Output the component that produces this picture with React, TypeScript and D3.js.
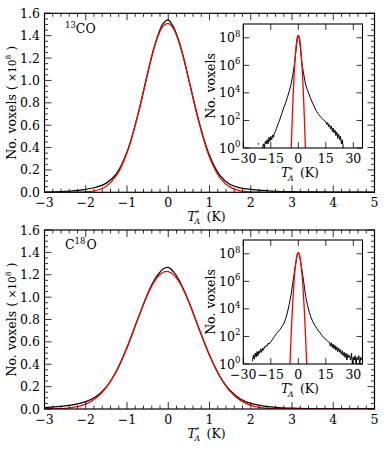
import React from 'react'
import * as d3 from 'd3'

const FONT = "'DejaVu Serif', 'Liberation Serif', 'Times New Roman', serif"
const RED = '#ff0000'

// main panels: T*_A grid (K), counts in units of 1e8
const mainT = [-3, -2.75, -2.5, -2.25, -2, -1.75, -1.5, -1.25, -1, -0.75, -0.5, -0.375, -0.25, -0.125, 0, 0.125, 0.25, 0.375, 0.5, 0.75, 1, 1.25, 1.5, 1.75, 2, 2.25, 2.5, 2.75, 3, 3.5, 4, 4.5, 5]
const co13Data = [0.002, 0.004, 0.008, 0.015, 0.027, 0.045, 0.082, 0.17, 0.36, 0.672, 1.062, 1.252, 1.405, 1.508, 1.54, 1.478, 1.362, 1.198, 1.005, 0.625, 0.328, 0.152, 0.07, 0.04, 0.026, 0.017, 0.011, 0.007, 0.005, 0.003, 0.0015, 0.0008, 0.0004]
const co13Fit = [0, 0, 0.0001, 0.0008, 0.004, 0.016, 0.055, 0.153, 0.353, 0.674, 1.066, 1.248, 1.394, 1.485, 1.509, 1.463, 1.352, 1.193, 1.003, 0.616, 0.313, 0.132, 0.046, 0.013, 0.003, 0.0006, 0.0001, 0, 0, 0, 0, 0, 0]
const c18oData = [0.012, 0.018, 0.027, 0.042, 0.066, 0.112, 0.198, 0.342, 0.548, 0.792, 1.03, 1.128, 1.2, 1.252, 1.265, 1.228, 1.16, 1.065, 0.958, 0.712, 0.48, 0.293, 0.165, 0.09, 0.05, 0.03, 0.018, 0.011, 0.007, 0.003, 0.0015, 0.0008, 0.0005]
const c18oFit = [0.0006, 0.0021, 0.0065, 0.018, 0.044, 0.098, 0.194, 0.346, 0.554, 0.795, 1.024, 1.116, 1.184, 1.222, 1.228, 1.201, 1.144, 1.06, 0.956, 0.717, 0.482, 0.291, 0.158, 0.077, 0.033, 0.013, 0.0046, 0.0015, 0.0004, 0, 0, 0, 0]

const mainXTicks = [-3, -2, -1, 0, 1, 2, 3, 4, 5]
const mainYTicks = [0, 0.2, 0.4, 0.6, 0.8, 1.0, 1.2, 1.4, 1.6]

// insets: log10 of counts
const co13InsetT = [-19.5, -19, -18.5, -18, -17.5, -17, -16.5, -16, -15.5, -15, -14.5, -14, -13.5, -13, -12.5, -12, -11, -10, -9, -8, -7, -6, -5, -4, -3, -2, -1, -0.5, 0, 0.5, 1, 2, 3, 4, 5, 6, 7, 8, 9, 10, 11, 12, 13, 14, 15, 15.5, 16, 16.5, 17, 17.5, 18, 18.5, 19, 19.5, 20, 20.5, 21, 21.5, 22, 22.5, 23, 23.5, 24, 24.5]
const co13InsetLog = [0, 0.3, 0, 0.48, 0.3, 0.6, 0.3, 0.78, 0.48, 0.85, 0.6, 0.95, 0.78, 1.1, 1.2, 1.4, 1.75, 2.1, 2.5, 2.9, 3.25, 3.65, 4.1, 4.6, 5.3, 6.2, 7.45, 7.95, 8.2, 7.95, 7.45, 6.1, 5.3, 4.6, 4.2, 3.85, 3.5, 3.2, 2.9, 2.65, 2.45, 2.3, 2.15, 2.0, 1.9, 1.7, 1.85, 1.55, 1.7, 1.4, 1.6, 1.2, 1.45, 1.1, 1.3, 0.9, 1.15, 0.7, 1.0, 0.6, 0.85, 0.3, 0.6, 0]
const co13InsetFitT = [-3.85, -3.5, -3, -2.5, -2, -1.5, -1, -0.5, 0, 0.5, 1, 1.5, 2, 2.5, 3, 3.5, 3.85]
const co13InsetFitLog = [0, 1.42, 3.21, 4.73, 5.97, 6.94, 7.63, 8.04, 8.18, 8.04, 7.63, 6.94, 5.97, 4.73, 3.21, 1.42, 0]
const co13StrayT = [-21.8]
const co13StrayLog = [0.3]

const c18oInsetT = [-25, -24.5, -24, -23.5, -23, -22.5, -22, -21.5, -21, -20.5, -20, -19.5, -19, -18.5, -18, -17.5, -17, -16.5, -16, -15, -14, -13, -12, -11, -10, -9, -8, -7, -6, -5, -4, -3, -2, -1, -0.5, 0, 0.5, 1, 2, 3, 4, 5, 6, 7, 8, 9, 10, 11, 12, 13, 14, 15, 16, 17, 17.5, 18, 18.5, 19, 19.5, 20, 20.5, 21, 21.5, 22, 22.5, 23, 23.5, 24, 24.5, 25, 25.5, 26, 26.5, 27, 27.5, 28, 28.5, 29, 29.5, 30, 30.5, 31, 31.5, 32, 32.5, 33, 33.5, 34, 34.5, 35]
const c18oInsetLog = [0.2, 0.65, 0.35, 0.8, 0.5, 0.9, 0.6, 0.95, 0.78, 1.1, 0.85, 1.15, 1.0, 1.25, 1.2, 1.35, 1.3, 1.5, 1.45, 1.6, 1.8, 2.0, 2.2, 2.35, 2.5, 2.7, 2.9, 3.25, 3.7, 4.3, 5.0, 5.9, 6.8, 7.6, 7.95, 8.1, 7.95, 7.6, 6.8, 5.9, 4.9, 4.3, 3.75, 3.35, 3.05, 2.8, 2.6, 2.4, 2.25, 2.05, 1.9, 1.8, 1.65, 1.55, 1.3, 1.55, 1.2, 1.45, 1.1, 1.35, 1.0, 1.25, 0.9, 1.15, 0.85, 1.05, 0.7, 0.95, 0.6, 0.85, 0.48, 0.78, 0.3, 0.7, 0.48, 0.6, 0.3, 0.78, 0, 0.48, 0.3, 0.6, 0, 0.48, 0.3, 0.6, 0, 0.48, 0.3, 0.48]
const c18oInsetFitT = [-4.55, -4.3, -4, -3.5, -3, -2.5, -2, -1.5, -1, -0.5, 0, 0.5, 1, 1.5, 2, 2.5, 3, 3.5, 4, 4.3, 4.55]
const c18oInsetFitLog = [0, 0.86, 1.83, 3.3, 4.57, 5.65, 6.53, 7.21, 7.7, 7.99, 8.09, 7.99, 7.7, 7.21, 6.53, 5.65, 4.57, 3.3, 1.83, 0.86, 0]

const insetXTicks = [-30, -15, 0, 15, 30]
const insetYExps = [0, 2, 4, 6, 8]

const FS = 12.5
const minus = (v: number) => String(v).replace('-', '\u2212')

// T*_A (K): star raised and A lowered, stacked after the italic T
const TLabel = ({ x, y, size }) => (
  <g fontSize={size}>
    <text x={x - 22} y={y} fontStyle="italic">T</text>
    <text x={x - 13.5} y={y - 5.5} fontSize={size * 0.55}>*</text>
    <text x={x - 15} y={y + 3.5} fontSize={size * 0.62} fontStyle="italic">A</text>
    <text x={x - 3} y={y}>(K)</text>
  </g>
)

const MainPanel = ({ id, y0, y1, data, fit, children }) => {
  const x = d3.scaleLinear().domain([-3, 5]).range([44.5, 374.5])
  const y = d3.scaleLinear().domain([0, 1.6]).range([y1, y0])
  const line = d3
    .line<number>()
    .x((_, i) => x(mainT[i]))
    .y(d => y(d))
    .curve(d3.curveCatmullRom)
  const minorX = d3.ticks(-3, 5, 40).filter(v => Math.abs(v - Math.round(v)) > 1e-6)
  const minorY = d3.ticks(0, 1.6, 32).filter(v => Math.abs(v * 5 - Math.round(v * 5)) > 1e-6)
  const [xl, xr] = x.range()
  return (
    <g>
      <clipPath id={id}>
        <rect x={xl} y={y0} width={xr - xl} height={y1 - y0} />
      </clipPath>
      <g clipPath={`url(#${id})`} fill="none">
        <path d={line(data)} stroke="black" strokeWidth={1.25} />
        <path d={line(fit)} stroke={RED} strokeWidth={1.25} />
      </g>
      <g stroke="black" strokeWidth={0.8}>
        {mainXTicks.map(t => (
          <g key={'mx' + t}>
            <line x1={x(t)} x2={x(t)} y1={y1} y2={y1 - 7} />
            <line x1={x(t)} x2={x(t)} y1={y0} y2={y0 + 7} />
          </g>
        ))}
        {minorX.map(t => (
          <g key={'nx' + t}>
            <line x1={x(t)} x2={x(t)} y1={y1} y2={y1 - 3.5} />
            <line x1={x(t)} x2={x(t)} y1={y0} y2={y0 + 3.5} />
          </g>
        ))}
        {mainYTicks.map(t => (
          <g key={'my' + t}>
            <line x1={xl} x2={xl + 7} y1={y(t)} y2={y(t)} />
            <line x1={xr} x2={xr - 7} y1={y(t)} y2={y(t)} />
          </g>
        ))}
        {minorY.map(t => (
          <g key={'ny' + t}>
            <line x1={xl} x2={xl + 3.5} y1={y(t)} y2={y(t)} />
            <line x1={xr} x2={xr - 3.5} y1={y(t)} y2={y(t)} />
          </g>
        ))}
      </g>
      <rect x={xl} y={y0} width={xr - xl} height={y1 - y0} fill="none" stroke="black" strokeWidth={1.2} />
      <g fontSize={FS}>
        {mainXTicks.map(t => (
          <text key={'lx' + t} x={x(t)} y={y1 + 14.5} textAnchor="middle">
            {minus(t)}
          </text>
        ))}
        {mainYTicks.map(t => (
          <text key={'ly' + t} x={xl - 4.5} y={y(t)} dy="0.36em" textAnchor="end">
            {d3.format('.1f')(t)}
          </text>
        ))}
        <text transform={`translate(16,${(y0 + y1) / 2}) rotate(-90)`} textAnchor="middle">
          No. voxels (
          <tspan fontSize={FS * 0.85}> ×10</tspan>
          <tspan fontSize={FS * 0.6} dy={-5}>8</tspan>
          <tspan dy={5}> )</tspan>
        </text>
      </g>
      <TLabel x={(xl + xr) / 2} y={y1 + 28.5} size={FS} />
      {children}
    </g>
  )
}

const Inset = ({ id, y0, y1, t, logv, fitT, fitLog, strayT = [], strayLog = [] }) => {
  const x = d3.scaleLinear().domain([-30, 35]).range([243.3, 362.5])
  const y = d3.scaleLog().domain([1, 1e9]).range([y1, y0])
  const black = d3
    .line<number>()
    .x((_, i) => x(t[i]))
    .y(d => y(10 ** d))
  const red = d3
    .line<number>()
    .x((_, i) => x(fitT[i]))
    .y(d => y(10 ** d))
    .curve(d3.curveCatmullRom)
  const [xl, xr] = x.range()
  return (
    <g>
      <rect x={xl} y={y0} width={xr - xl} height={y1 - y0} fill="white" />
      <clipPath id={id}>
        <rect x={xl} y={y0} width={xr - xl} height={y1 - y0} />
      </clipPath>
      <g clipPath={`url(#${id})`} fill="none">
        <path d={black(logv)} stroke="black" strokeWidth={1} />
        {strayT.map((s, i) => (
          <rect key={i} x={x(s) - 0.6} y={y(10 ** strayLog[i]) - 0.6} width={1.2} height={1.2} fill="black" />
        ))}
        <path d={red(fitLog)} stroke={RED} strokeWidth={1.3} />
      </g>
      <g stroke="black" strokeWidth={0.8}>
        {insetXTicks.map(v => (
          <g key={'ix' + v}>
            <line x1={x(v)} x2={x(v)} y1={y1} y2={y1 - 6} />
            <line x1={x(v)} x2={x(v)} y1={y0} y2={y0 + 6} />
          </g>
        ))}
        {insetYExps.map(e => (
          <g key={'iy' + e}>
            <line x1={xl} x2={xl + 6} y1={y(10 ** e)} y2={y(10 ** e)} />
            <line x1={xr} x2={xr - 6} y1={y(10 ** e)} y2={y(10 ** e)} />
          </g>
        ))}
      </g>
      <rect x={xl} y={y0} width={xr - xl} height={y1 - y0} fill="none" stroke="black" strokeWidth={1.1} />
      <g fontSize={FS}>
        {insetXTicks.map(v => (
          <text key={'lx' + v} x={x(v)} y={y1 + 15} textAnchor="middle">
            {minus(v)}
          </text>
        ))}
        {insetYExps.map(e => (
          <text key={'ly' + e} x={xl - 3} y={y(10 ** e) + 4.5} textAnchor="end">
            10
            <tspan fontSize={FS * 0.68} dy={-5.5}>
              {e}
            </tspan>
          </text>
        ))}
        <text transform={`translate(215,${(y0 + y1) / 2}) rotate(-90)`} textAnchor="middle">
          No. voxels
        </text>
      </g>
      <TLabel x={(xl + xr) / 2} y={y1 + 29} size={FS} />
    </g>
  )
}

const App = () => (
  <svg
    width={390}
    height={450}
    style={{ position: 'absolute', left: 0, top: 0, background: 'white', fontFamily: FONT }}
  >
    <MainPanel id="clipTop" y0={13.3} y1={192.3} data={co13Data} fit={co13Fit}>
      <text x={65} y={33.3} fontSize={FS}>
        <tspan fontSize={FS * 0.68} dy={-5}>13</tspan>
        <tspan dy={5}>CO</tspan>
      </text>
      <Inset
        id="clipTopInset"
        y0={24}
        y1={148}
        t={co13InsetT}
        logv={co13InsetLog}
        fitT={co13InsetFitT}
        fitLog={co13InsetFitLog}
        strayT={co13StrayT}
        strayLog={co13StrayLog}
      />
    </MainPanel>
    <MainPanel id="clipBot" y0={230} y1={409} data={c18oData} fit={c18oFit}>
      <text x={65} y={249.3} fontSize={FS}>
        C
        <tspan fontSize={FS * 0.68} dy={-5}>18</tspan>
        <tspan dy={5} dx={1}>O</tspan>
      </text>
      <Inset
        id="clipBotInset"
        y0={240}
        y1={364}
        t={c18oInsetT}
        logv={c18oInsetLog}
        fitT={c18oInsetFitT}
        fitLog={c18oInsetFitLog}
      />
    </MainPanel>
  </svg>
)

export default App
